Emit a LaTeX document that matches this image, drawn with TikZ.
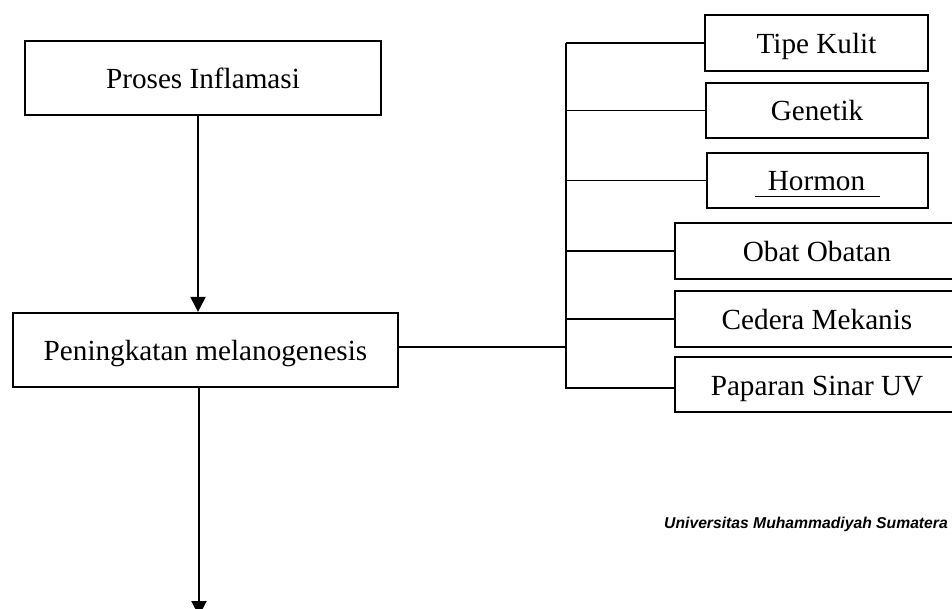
\documentclass[tikz,border=0pt]{standalone}
\usepackage{fontspec}
\setmainfont{Liberation Serif}
\newfontfamily\wmfont{Liberation Sans}
\usetikzlibrary{arrows.meta}
\begin{document}
\begin{tikzpicture}[x=1pt,y=-1pt,
  box/.style={draw=black,line width=2.2pt,rectangle,inner sep=0pt,
    text height=21pt,text depth=0pt,
    font=\fontsize{29.2}{35}\selectfont},
  link/.style={draw=black,line width=1.3pt},
  flow/.style={draw=black,line width=2pt,-{Triangle[length=15pt,width=15pt]}}]
\useasboundingbox (0,0) rectangle (952,609);
\clip (0,0) rectangle (952,609);
\fill[white] (0,0) rectangle (952,609);
% left column
\node[box,minimum width=356pt,minimum height=74pt] (pi) at (203,78) {Proses Inflamasi};
\node[box,minimum width=385pt,minimum height=74pt] (pm) at (205.5,350) {Peningkatan melanogenesis};
\coordinate (out) at (199,616);
% right column
\node[box,minimum width=223pt,minimum height=56pt] (tk) at (816.5,43) {Tipe Kulit};
\node[box,minimum width=222pt,minimum height=55pt] (gn) at (817,110.5) {Genetik};
\node[box,minimum width=221pt,minimum height=55pt] (hm) at (817.5,180.5) {\underline{\hspace{13pt}Hormon\rule[-4pt]{0pt}{1pt}\hspace{15pt}}};
\node[box,minimum width=284pt,minimum height=56pt] (ob) at (817,251) {Obat Obatan};
\node[box,minimum width=284pt,minimum height=56pt] (cm) at (817,319) {Cedera Mekanis};
\node[box,minimum width=284pt,minimum height=55pt] (pu) at (817,384.5) {Paparan Sinar UV};
% bus
\coordinate (bt) at (566,43);
\coordinate (bb) at (566,389);
\coordinate (bj) at (566,347);
\draw[link] (bt) -- (bb);
\draw[link] (pm.east |- bj) -- (bj);
\draw[link] (bt |- tk.west) -- (tk.west);
\draw[link] (bt |- gn.west) -- (gn.west);
\draw[link] (bt |- hm.west) -- (hm.west);
\draw[link] (bt |- ob.west) -- (ob.west);
\draw[link] (bt |- cm.west) -- (cm.west);
\draw[link] (566,388) -- (pu.west |- 0,388);
% arrows
\draw[flow] ([xshift=-5pt]pi.south) -- ([xshift=-7.5pt]pm.north);
\draw[flow] ([xshift=-6.5pt]pm.south) -- (out);
% watermark
\node[anchor=base east,inner sep=0pt,font=\wmfont\bfseries\itshape\fontsize{15.7}{18}\selectfont] (wm) at (948,528) {Universitas Muhammadiyah Sumatera};
\end{tikzpicture}
\end{document}
